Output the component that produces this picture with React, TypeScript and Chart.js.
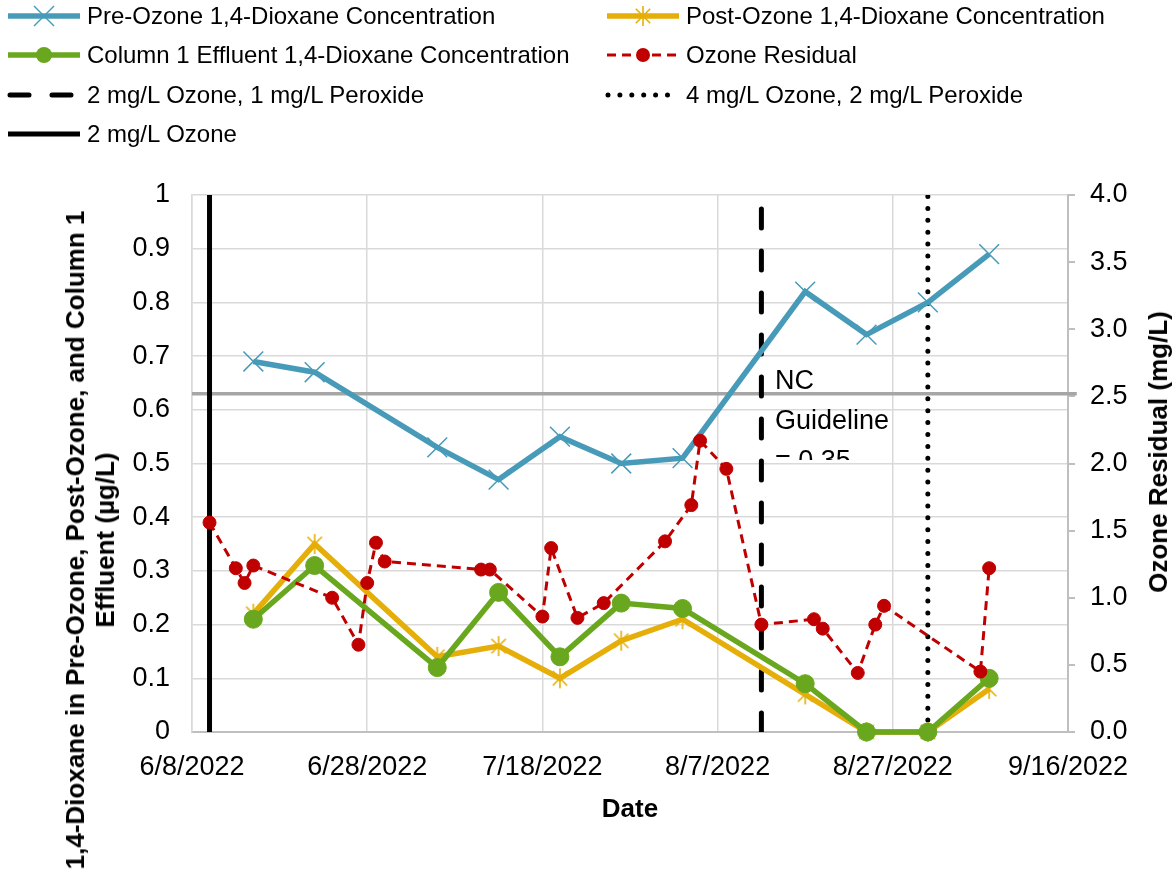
import React, { useEffect, useRef } from 'react';
import { Chart, registerables } from 'chart.js';

Chart.register(...registerables);

// ---------- data ----------
const START_DATE = '6/8/2022';
const X_MAX_DAYS = 100;
const X_STEP_DAYS = 20;

const dioxaneDates = ['6/15/2022', '6/22/2022', '7/6/2022', '7/13/2022', '7/20/2022', '7/27/2022', '8/3/2022', '8/17/2022', '8/24/2022', '8/31/2022', '9/7/2022'];
const preOzone = [0.69, 0.67, 0.53, 0.47, 0.55, 0.5, 0.51, 0.82, 0.74, 0.8, 0.89];
const postOzone = [0.22, 0.35, 0.14, 0.16, 0.1, 0.17, 0.21, 0.07, 0, 0, 0.08];
const column1Effluent = [0.21, 0.31, 0.12, 0.26, 0.14, 0.24, 0.23, 0.09, 0, 0, 0.1];

const residualDates = ['6/10/2022', '6/13/2022', '6/14/2022', '6/15/2022', '6/24/2022', '6/27/2022', '6/28/2022', '6/29/2022', '6/30/2022', '7/11/2022', '7/12/2022', '7/18/2022', '7/19/2022', '7/22/2022', '7/25/2022', '8/1/2022', '8/4/2022', '8/5/2022', '8/8/2022', '8/12/2022', '8/18/2022', '8/19/2022', '8/23/2022', '8/25/2022', '8/26/2022', '9/6/2022', '9/7/2022'];
const ozoneResidual = [1.56, 1.22, 1.11, 1.24, 1.0, 0.65, 1.11, 1.41, 1.27, 1.21, 1.21, 0.86, 1.37, 0.85, 0.96, 1.42, 1.69, 2.17, 1.96, 0.8, 0.84, 0.77, 0.44, 0.8, 0.94, 0.45, 1.22];

const ozoneOnlyDate = '6/10/2022';
const ozonePeroxide1Date = '8/12/2022';
const ozonePeroxide2Date = '8/31/2022';
const markerLineSpan = [0, 1];

const guidelineLevel = 0.63;
const guidelineSpanDays = [0, 101];

const leftTicks = { min: 0, max: 1, step: 0.1 };
const rightTicks = { min: 0, max: 4, step: 0.5 };

const legendLabels = [
  'Pre-Ozone 1,4-Dioxane Concentration',
  'Post-Ozone 1,4-Dioxane Concentration',
  'Column 1 Effluent 1,4-Dioxane Concentration',
  'Ozone Residual',
  '2 mg/L Ozone, 1 mg/L Peroxide',
  '4 mg/L Ozone, 2 mg/L Peroxide',
  '2 mg/L Ozone',
];
const leftTitleLines = ['1,4-Dioxane in Pre-Ozone, Post-Ozone, and Column 1', 'Effluent (µg/L)'];
const rightTitle = 'Ozone Residual (mg/L)';
const xTitle = 'Date';
const guidelineText = ['NC', 'Guideline', '= 0.35'];

// ---------- styles ----------
const FONT = '"Liberation Sans", Arial, Helvetica, sans-serif';
const BLUE = '#479BB9';
const GOLD = '#E5AE08';
const GREEN = '#68A71E';
const RED = '#C00000';
const GRID = '#D9D9D9';
const AXIS = '#BFBFBF';
const SERIES_W = 5.5;

const baseUTC = (() => {
  const [m, d, y] = START_DATE.split('/').map(Number);
  return Date.UTC(y, m - 1, d);
})();
const toDay = (s: string) => {
  const [m, d, y] = s.split('/').map(Number);
  return (Date.UTC(y, m - 1, d) - baseUTC) / 86400000;
};
const fromDay = (n: number) => {
  const dt = new Date(baseUTC + n * 86400000);
  return `${dt.getUTCMonth() + 1}/${dt.getUTCDate()}/${dt.getUTCFullYear()}`;
};
const pts = (dates: string[], vals: number[]) => dates.map((d, i) => ({ x: toDay(d), y: vals[i] }));
const vline = (date: string) => markerLineSpan.map((y) => ({ x: toDay(date), y }));

function makeAsterisk(color: string, size = 22, lw = 1.6) {
  const c = document.createElement('canvas');
  c.width = size;
  c.height = size;
  const ctx = c.getContext('2d')!;
  ctx.strokeStyle = color;
  ctx.lineWidth = lw;
  const h = size / 2;
  const r = h - 1;
  const d = r * 0.72;
  ctx.beginPath();
  ctx.moveTo(h, h - r);
  ctx.lineTo(h, h + r);
  ctx.moveTo(h - d, h - d);
  ctx.lineTo(h + d, h + d);
  ctx.moveTo(h + d, h - d);
  ctx.lineTo(h - d, h + d);
  ctx.stroke();
  return c;
}

const DASH_BIG = [19, 23];
const DOTS = [0, 11.9];
const RED_DASH = [9, 6];

function Swatch({ kind }: { kind: number }) {
  const y = 12;
  const x1 = 8;
  const x2 = 80;
  const cx = 44;
  let content: React.ReactNode = null;
  if (kind === 0) {
    const r = 10;
    content = (
      <>
        <line x1={x1} y1={y} x2={x2} y2={y} stroke={BLUE} strokeWidth={SERIES_W} />
        <line x1={cx - r} y1={y - r} x2={cx + r} y2={y + r} stroke={BLUE} strokeWidth={1.5} />
        <line x1={cx + r} y1={y - r} x2={cx - r} y2={y + r} stroke={BLUE} strokeWidth={1.5} />
      </>
    );
  } else if (kind === 1) {
    const r = 10;
    const d = 7.2;
    content = (
      <>
        <line x1={x1} y1={y} x2={x2} y2={y} stroke={GOLD} strokeWidth={SERIES_W} />
        <line x1={cx} y1={y - r} x2={cx} y2={y + r} stroke={GOLD} strokeWidth={1.6} />
        <line x1={cx - d} y1={y - d} x2={cx + d} y2={y + d} stroke={GOLD} strokeWidth={1.6} />
        <line x1={cx + d} y1={y - d} x2={cx - d} y2={y + d} stroke={GOLD} strokeWidth={1.6} />
      </>
    );
  } else if (kind === 2) {
    content = (
      <>
        <line x1={x1} y1={y} x2={x2} y2={y} stroke={GREEN} strokeWidth={SERIES_W} />
        <circle cx={cx} cy={y} r={8} fill={GREEN} />
      </>
    );
  } else if (kind === 3) {
    content = (
      <>
        <line x1={x1} y1={y} x2={x2} y2={y} stroke={RED} strokeWidth={3} strokeDasharray={RED_DASH.join(' ')} />
        <circle cx={cx} cy={y} r={7} fill={RED} />
      </>
    );
  } else if (kind === 4) {
    content = <line x1={x1 + 2} y1={y} x2={x2} y2={y} stroke="#000" strokeWidth={5} strokeLinecap="round" strokeDasharray={DASH_BIG.join(' ')} />;
  } else if (kind === 5) {
    content = <line x1={x1 + 1} y1={y} x2={x2 - 8} y2={y} stroke="#000" strokeWidth={5} strokeLinecap="round" strokeDasharray="0 11.9" />;
  } else {
    content = <line x1={x1} y1={y} x2={x2} y2={y} stroke="#000" strokeWidth={5} />;
  }
  return (
    <svg width={90} height={24} style={{ position: 'absolute', left: 0, top: 0, overflow: 'visible' }}>
      {content}
    </svg>
  );
}

export default function App() {
  const ref = useRef<HTMLCanvasElement | null>(null);

  useEffect(() => {
    if (!ref.current) return;
    const asterisk = makeAsterisk(GOLD);
    const tickFont = { family: FONT, size: 27 };
    const chart = new Chart(ref.current, {
      type: 'line',
      data: {
        datasets: [
          {
            label: legendLabels[3],
            data: pts(residualDates, ozoneResidual),
            yAxisID: 'y1',
            borderColor: RED,
            backgroundColor: RED,
            borderWidth: 3,
            borderDash: RED_DASH,
            pointStyle: 'circle',
            pointRadius: 6.5,
            pointBorderWidth: 1,
            pointBackgroundColor: RED,
            pointBorderColor: RED,
            order: 0,
            clip: 15,
          } as any,
          {
            label: legendLabels[2],
            data: pts(dioxaneDates, column1Effluent),
            yAxisID: 'y',
            borderColor: GREEN,
            backgroundColor: GREEN,
            borderWidth: SERIES_W,
            pointStyle: 'circle',
            pointRadius: 9,
            pointBorderWidth: 1,
            pointBackgroundColor: GREEN,
            pointBorderColor: GREEN,
            order: 1,
            clip: 15,
          } as any,
          {
            label: legendLabels[1],
            data: pts(dioxaneDates, postOzone),
            yAxisID: 'y',
            borderColor: GOLD,
            backgroundColor: GOLD,
            borderWidth: SERIES_W,
            pointStyle: asterisk,
            pointRadius: 11,
            order: 2,
            clip: 15,
          } as any,
          {
            label: legendLabels[0],
            data: pts(dioxaneDates, preOzone),
            yAxisID: 'y',
            borderColor: BLUE,
            backgroundColor: BLUE,
            borderWidth: SERIES_W,
            pointStyle: 'crossRot',
            pointRadius: 14,
            pointBorderWidth: 1.5,
            pointBorderColor: BLUE,
            order: 3,
            clip: 15,
          } as any,
          {
            label: legendLabels[6],
            data: vline(ozoneOnlyDate),
            yAxisID: 'y',
            borderColor: '#000',
            borderWidth: 5,
            pointRadius: 0,
            order: 4,
          } as any,
          {
            label: legendLabels[4],
            data: vline(ozonePeroxide1Date),
            yAxisID: 'y',
            borderColor: '#000',
            borderWidth: 5,
            borderDash: DASH_BIG,
            borderCapStyle: 'round',
            pointRadius: 0,
            order: 5,
          } as any,
          {
            label: legendLabels[5],
            data: vline(ozonePeroxide2Date),
            yAxisID: 'y',
            borderColor: '#000',
            borderWidth: 5,
            borderDash: DOTS,
            borderCapStyle: 'round',
            pointRadius: 0,
            order: 6,
          } as any,
          {
            label: 'NC Guideline',
            data: guidelineSpanDays.map((x) => ({ x, y: guidelineLevel })),
            yAxisID: 'y',
            borderColor: '#A6A6A6',
            borderWidth: 3.5,
            pointRadius: 0,
            order: 7,
            clip: false,
          } as any,
        ],
      },
      options: {
        responsive: false,
        animation: false,
        devicePixelRatio: 1,
        layout: { padding: { top: 195, left: 0, right: 0, bottom: 0 } },
        plugins: {
          legend: { display: false },
          tooltip: { enabled: false },
          title: { display: false },
        },
        elements: { line: { tension: 0 } },
        scales: {
          x: {
            type: 'linear',
            min: 0,
            max: X_MAX_DAYS,
            afterFit: (s: any) => {
              s.height = 147;
            },
            ticks: {
              stepSize: X_STEP_DAYS,
              callback: (v: any) => fromDay(Number(v)),
              font: tickFont,
              color: '#000',
              padding: 19,
              maxRotation: 0,
              autoSkip: false,
            },
            grid: { color: GRID, lineWidth: 1.5, drawTicks: false },
            border: { color: AXIS, width: 2 },
          },
          y: {
            position: 'left',
            min: leftTicks.min,
            max: leftTicks.max,
            afterFit: (s: any) => {
              s.width = 192;
            },
            ticks: {
              stepSize: leftTicks.step,
              callback: (v: any) => String(Math.round(Number(v) * 10) / 10),
              font: tickFont,
              color: '#000',
              padding: 22,
            },
            grid: { color: GRID, lineWidth: 1.5, drawTicks: false },
            border: { color: GRID, width: 1.5 },
          },
          y1: {
            position: 'right',
            min: rightTicks.min,
            max: rightTicks.max,
            afterFit: (s: any) => {
              s.width = 108;
            },
            ticks: {
              stepSize: rightTicks.step,
              callback: (v: any) => Number(v).toFixed(1),
              font: tickFont,
              color: '#000',
              padding: 15,
            },
            grid: { drawOnChartArea: false, drawTicks: true, tickLength: 7, color: AXIS, lineWidth: 2 },
            border: { color: AXIS, width: 2 },
          },
        },
      } as any,
    });
    return () => chart.destroy();
  }, []);

  const rowY = (i: number) => 15.5 + 39.5 * i;
  const legendPos = [
    { col: 0, row: 0 },
    { col: 1, row: 0 },
    { col: 0, row: 1 },
    { col: 1, row: 1 },
    { col: 0, row: 2 },
    { col: 1, row: 2 },
    { col: 0, row: 3 },
  ];
  const colX = [0, 599];

  return (
    <div
      style={{
        position: 'absolute',
        left: 0,
        top: 0,
        width: 1176,
        height: 879,
        background: '#fff',
        overflow: 'hidden',
        fontFamily: FONT,
        color: '#000',
      }}
    >
      <canvas ref={ref} width={1176} height={879} style={{ position: 'absolute', left: 0, top: 0, display: 'block' }} />

      {legendLabels.map((lab, i) => {
        const p = legendPos[i];
        return (
          <div key={lab} style={{ position: 'absolute', left: colX[p.col], top: rowY(p.row) - 12, width: 560, height: 24 }}>
            <Swatch kind={i} />
            <div
              style={{
                position: 'absolute',
                left: 87,
                top: -3,
                fontSize: 24,
                lineHeight: '30px',
                whiteSpace: 'nowrap',
              }}
            >
              {lab}
            </div>
          </div>
        );
      })}

      <div
        style={{
          position: 'absolute',
          left: 90,
          top: 540,
          transform: 'translate(-50%, -50%) rotate(-90deg)',
          whiteSpace: 'nowrap',
          fontWeight: 'bold',
          fontSize: 26,
          lineHeight: '30px',
          textAlign: 'center',
        }}
      >
        {leftTitleLines[0]}
        <br />
        {leftTitleLines[1]}
      </div>

      <div
        style={{
          position: 'absolute',
          left: 1158,
          top: 452,
          transform: 'translate(-50%, -50%) rotate(-90deg)',
          whiteSpace: 'nowrap',
          fontWeight: 'bold',
          fontSize: 26,
          lineHeight: '30px',
        }}
      >
        {rightTitle}
      </div>

      <div
        style={{
          position: 'absolute',
          left: 630,
          top: 808,
          transform: 'translate(-50%, -50%)',
          whiteSpace: 'nowrap',
          fontWeight: 'bold',
          fontSize: 26,
          lineHeight: '30px',
        }}
      >
        {xTitle}
      </div>

      <div
        style={{
          position: 'absolute',
          left: 775,
          top: 360,
          height: 100,
          overflow: 'hidden',
          fontSize: 27,
          lineHeight: '40px',
          whiteSpace: 'nowrap',
        }}
      >
        {guidelineText.map((t) => (
          <div key={t}>{t}</div>
        ))}
      </div>
    </div>
  );
}
